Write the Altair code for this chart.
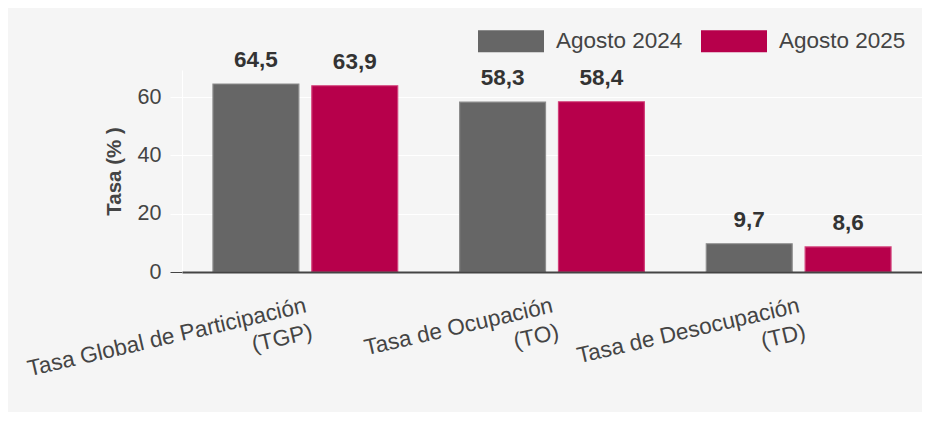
import altair as alt
import pandas as pd

categorias = ["Tasa Global de Participación\n(TGP)", "Tasa de Ocupación\n(TO)", "Tasa de Desocupación\n(TD)"]
periodos = ["Agosto 2024", "Agosto 2025"]
valores_2024 = [64.5, 58.3, 9.7]
valores_2025 = [63.9, 58.4, 8.6]
colores = ["#666666", "#b7004b"]
bordes = ["#8c8c8c", "#d2407a"]

rows = []
for c, v in zip(categorias, valores_2024):
    rows.append({"categoria": c, "periodo": periodos[0], "valor": v})
for c, v in zip(categorias, valores_2025):
    rows.append({"categoria": c, "periodo": periodos[1], "valor": v})
df = pd.DataFrame(rows)

FONT = "Liberation Sans"

x_enc = alt.X(
    "categoria:N",
    sort=categorias,
    scale=alt.Scale(paddingInner=0.251, paddingOuter=0.1255),
    axis=alt.Axis(
        title=None,
        labelAngle=-13,
        labelAlign="right",
        labelBaseline="top",
        labelPadding=22,
        labelOffset=-2,
        labelFontSize=22.5,
        labelLineHeight=27,
        labelColor="#444444",
        labelLimit=0,
        labelExpr="split(datum.label, '\\n')",
        ticks=False,
        grid=False,
        domainColor="#444444",
        domainWidth=2,
        zindex=1,
    ),
)
xoff_enc = alt.XOffset("periodo:N", sort=periodos, scale=alt.Scale(paddingInner=0.131, paddingOuter=0))
y_enc = alt.Y(
    "valor:Q",
    scale=alt.Scale(domain=[0, 69.3], nice=False, zero=True),
    axis=alt.Axis(
        title="Tasa (% )",
        titleFontSize=20.5,
        titleFontWeight="bold",
        titleColor="#444444",
        titleX=-68,
        titleY=101,
        titleAlign="center",
        titleBaseline="middle",
        titleAngle=-90,
        values=[0, 20, 40, 60],
        labelFontSize=21.5,
        labelColor="#444444",
        labelPadding=9,
        tickSize=12,
        tickWidth=1,
        tickColor={"condition": {"test": "datum.value === 0", "value": "#444444"}, "value": "#ffffff"},
        gridColor="#ffffff",
        gridWidth=1,
        domainColor="#ffffff",
        domainWidth=1,
    ),
)

bars = alt.Chart(df).mark_bar(strokeWidth=1.2).encode(
    x=x_enc,
    xOffset=xoff_enc,
    y=y_enc,
    color=alt.Color(
        "periodo:N",
        sort=periodos,
        scale=alt.Scale(domain=periodos, range=colores),
        legend=alt.Legend(
            title=None,
            orient="none",
            legendX=307,
            legendY=-51,
            direction="horizontal",
            labelFontSize=22.5,
            labelColor="#444444",
            symbolType="M-1.5,-0.5H1.5V0.5H-1.5Z",
            symbolSize=1936,
            symbolStrokeWidth=0,
            labelOffset=23,
            columnPadding=18,
        ),
    ),
    stroke=alt.Stroke("periodo:N", sort=periodos, scale=alt.Scale(domain=periodos, range=bordes), legend=None),
)

labels = alt.Chart(df).transform_calculate(
    etiqueta="replace(format(datum.valor, '.1f'), '.', ',')"
).mark_text(
    fontSize=22.5, fontWeight="bold", color="#333333", baseline="alphabetic", dy=-17, font=FONT
).encode(
    x=alt.X("categoria:N", sort=categorias),
    xOffset=alt.XOffset("periodo:N", sort=periodos),
    y=alt.Y("valor:Q"),
    text="etiqueta:N",
)

chart = alt.layer(bars, labels).properties(
    width=740,
    height=202,
    background="#f5f5f5",
    padding={"left": 174, "top": 62, "right": 0, "bottom": 140},
    autosize=alt.AutoSizeParams(type="none"),
).configure(font=FONT).configure_view(stroke=None)

chart.save("out.html", embed_options={"renderer": "svg", "actions": False})
